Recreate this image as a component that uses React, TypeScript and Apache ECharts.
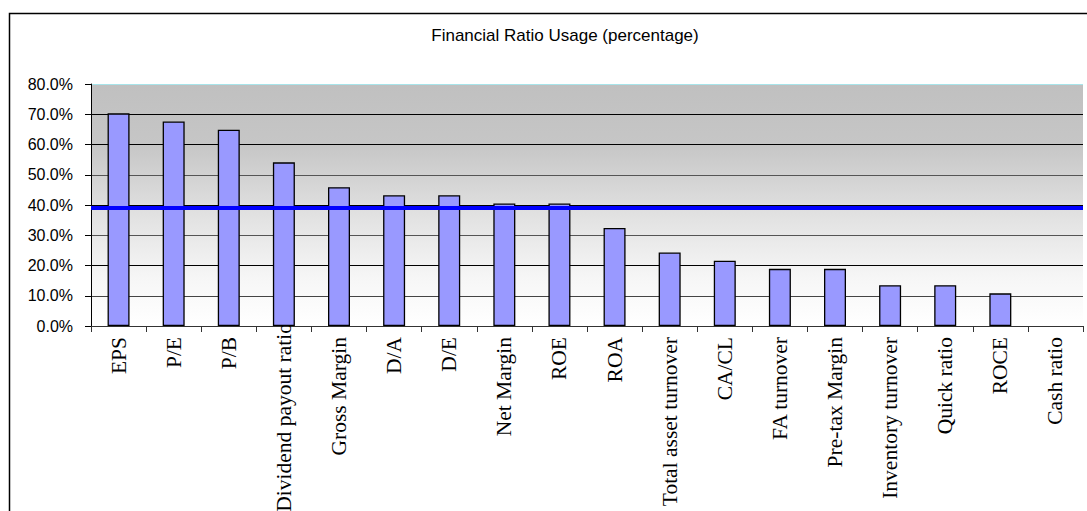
import React, { useEffect, useRef } from "react";
import * as echarts from "echarts";

const categories = [
  "EPS", "P/E", "P/B", "Dividend payout ratio", "Gross Margin", "D/A", "D/E",
  "Net Margin", "ROE", "ROA", "Total asset turnover", "CA/CL", "FA turnover",
  "Pre-tax Margin", "Inventory turnover", "Quick ratio", "ROCE", "Cash ratio",
];
const usage = [70.3, 67.6, 64.9, 54.1, 45.9, 43.2, 43.2, 40.5, 40.5, 32.4, 24.3, 21.6, 18.9, 18.9, 13.5, 13.5, 10.8, 0];
const referenceLevel = 39;
const yMin = 0;
const yMax = 80;
const yStep = 10;
const longLabel = "Dividend payout ratio";

export default function App() {
  const ref = useRef<HTMLDivElement>(null);
  useEffect(() => {
    if (!ref.current) return;
    const chart = echarts.init(ref.current, undefined, { renderer: "svg" });
    chart.setOption({
      animation: false,
      backgroundColor: "#ffffff",
      title: {
        text: "Financial Ratio Usage (percentage)",
        left: 565,
        textAlign: "center",
        top: 27,
        padding: 0,
        textStyle: { fontFamily: "Liberation Sans", fontSize: 17, fontWeight: "normal", color: "#000" },
      },
      graphic: [
        {
          type: "rect",
          shape: { x: 9.5, y: 13.5, width: 1200, height: 700 },
          style: { fill: "none", stroke: "#000", lineWidth: 1.5 },
          silent: true,
          z: -1,
        },
      ],
      grid: {
        left: 91,
        right: 4,
        top: 84,
        bottom: 185,
        outerBoundsMode: "none",
        containLabel: false,
        show: true,
        borderWidth: 0,
        backgroundColor: new echarts.graphic.LinearGradient(0, 0, 0, 1, [
          { offset: 0, color: "#c0c0c0" },
          { offset: 0.25, color: "#c6c6c6" },
          { offset: 0.55, color: "#e2e2e2" },
          { offset: 0.8, color: "#f6f6f6" },
          { offset: 1, color: "#ffffff" },
        ]),
      },
      xAxis: {
        type: "category",
        data: categories.map((c) =>
          c === longLabel ? { value: c, textStyle: { padding: [0, -14, 0, 0] } } : c
        ),
        axisLine: { show: true, lineStyle: { color: "#333", width: 1 } },
        axisTick: { show: true, length: 6, lineStyle: { color: "#333" } },
        axisLabel: {
          rotate: 90,
          interval: 0,
          margin: 11,
          fontFamily: "Liberation Serif",
          fontSize: 21.5,
          color: "#000",
        },
        splitLine: { show: false },
      },
      yAxis: {
        type: "value",
        min: yMin,
        max: yMax,
        interval: yStep,
        axisLine: { show: true, lineStyle: { color: "#000", width: 1 } },
        axisTick: { show: true, length: 6, lineStyle: { color: "#000" } },
        axisLabel: {
          margin: 18,
          fontFamily: "Liberation Sans",
          fontSize: 16,
          color: "#000",
          formatter: (v: number) => v.toFixed(1) + "%",
        },
        splitLine: {
          show: true,
          lineStyle: {
            color: ["#000", "#444", "#000", "#555", "#000", "#555", "#000", "#000", "#a8e4ea"],
            width: 1,
          },
        },
      },
      series: [
        {
          type: "bar",
          data: usage.map((v) => (v === 0 ? { value: v, itemStyle: { borderWidth: 0 } } : v)),
          barWidth: 22,
          itemStyle: { color: "#9999ff", borderColor: "#000", borderWidth: 1.3 },
          markLine: {
            silent: true,
            symbol: "none",
            label: { show: false },
            lineStyle: { color: "#0000ff", width: 4, type: "solid" },
            data: [{ yAxis: referenceLevel }],
          },
        },
      ],
    });
    return () => chart.dispose();
  }, []);
  return (
    <div
      ref={ref}
      style={{ position: "absolute", left: 0, top: 0, width: 1087, height: 511, overflow: "hidden" }}
    />
  );
}
